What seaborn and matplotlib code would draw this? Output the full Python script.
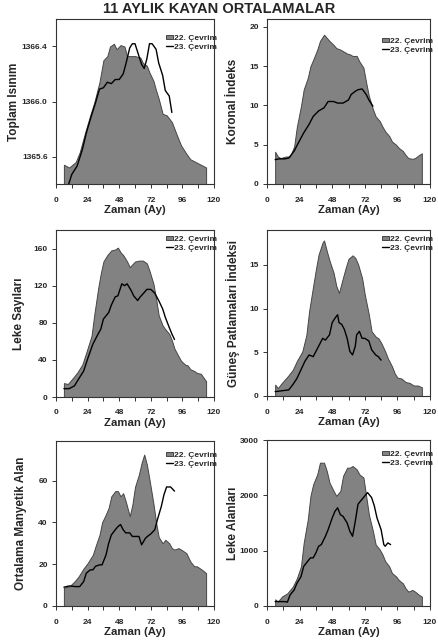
import numpy as np
import seaborn as sns
import matplotlib.pyplot as plt

# 11-month running means, cycle 22 (filled) vs cycle 23 (line), x = months
tsi22_m = [6, 10, 15, 18, 22, 26, 29, 33, 36, 39, 41, 44, 46, 49, 52, 54, 57, 60, 64, 66, 69, 71, 74, 76, 78, 81, 84, 88, 92, 95, 99, 102, 106, 110, 114]
tsi22 = [1365.54, 1365.52, 1365.56, 1365.63, 1365.77, 1365.90, 1365.99, 1366.14, 1366.30, 1366.33, 1366.40, 1366.42, 1366.38, 1366.41, 1366.40, 1366.33, 1366.33, 1366.33, 1366.32, 1366.28, 1366.26, 1366.21, 1366.15, 1366.08, 1366.02, 1365.91, 1365.90, 1365.85, 1365.75, 1365.68, 1365.62, 1365.58, 1365.56, 1365.54, 1365.52]
tsi23_m = [9, 12, 16, 20, 23, 27, 30, 33, 36, 39, 42, 45, 48, 51, 53, 56, 58, 60, 62, 65, 67, 69, 71, 73, 76, 78, 81, 83, 86, 88]
tsi23 = [1365.38, 1365.47, 1365.53, 1365.65, 1365.77, 1365.90, 1365.99, 1366.09, 1366.10, 1366.14, 1366.13, 1366.16, 1366.16, 1366.20, 1366.27, 1366.39, 1366.42, 1366.42, 1366.36, 1366.27, 1366.24, 1366.31, 1366.42, 1366.42, 1366.38, 1366.28, 1366.19, 1366.08, 1366.04, 1365.92]

ci22_m = [6, 8, 10, 14, 17, 20, 22, 25, 27, 30, 32, 34, 37, 39, 42, 44, 46, 49, 51, 54, 56, 59, 61, 63, 66, 68, 71, 73, 75, 78, 80, 83, 85, 87, 90, 92, 95, 97, 100, 102, 104, 107, 109, 112, 114]
ci22 = [4.1, 3.5, 3.3, 3.5, 3.5, 4.8, 7.3, 9.9, 12.0, 13.5, 15.0, 15.8, 17.1, 18.2, 19.0, 18.6, 18.2, 17.7, 17.3, 17.1, 16.9, 16.6, 16.5, 16.3, 16.3, 15.6, 14.8, 12.9, 11.2, 9.5, 8.6, 8.0, 7.3, 6.7, 6.1, 5.4, 5.0, 4.6, 4.2, 3.7, 3.3, 3.2, 3.3, 3.7, 3.9]
ci23_m = [6, 9, 13, 16, 20, 23, 27, 31, 34, 38, 42, 45, 49, 52, 56, 60, 62, 65, 67, 70, 73, 75, 78]
ci23 = [3.1, 3.2, 3.2, 3.3, 4.2, 5.2, 6.5, 7.6, 8.6, 9.3, 9.7, 10.5, 10.5, 10.3, 10.3, 10.7, 11.4, 11.8, 12.0, 12.1, 11.4, 10.7, 9.9]

ssn22_m = [6, 9, 12, 16, 20, 23, 27, 29, 32, 34, 36, 39, 42, 45, 47, 49, 51, 54, 56, 58, 60, 63, 66, 69, 71, 74, 76, 78, 81, 83, 86, 88, 90, 93, 95, 98, 100, 102, 105, 107, 110, 112, 114]
ssn22 = [15, 14, 19, 26, 35, 48, 66, 88, 117, 133, 146, 153, 158, 159, 161, 156, 153, 146, 140, 143, 146, 147, 147, 144, 136, 122, 106, 88, 77, 73, 68, 61, 52, 44, 39, 35, 34, 30, 28, 26, 25, 21, 17]
ssn23_m = [6, 10, 14, 17, 21, 24, 28, 32, 34, 36, 40, 42, 45, 47, 50, 52, 54, 57, 59, 62, 64, 66, 69, 72, 75, 78, 81, 83, 86, 88, 90]
ssn23 = [9, 9, 12, 19, 28, 41, 57, 68, 73, 84, 91, 99, 108, 109, 122, 120, 122, 115, 109, 104, 108, 111, 116, 116, 112, 104, 95, 86, 75, 68, 62]

fi22_m = [6, 8, 11, 15, 19, 22, 26, 29, 31, 34, 36, 38, 41, 42, 44, 46, 49, 51, 53, 55, 58, 60, 63, 65, 67, 70, 72, 75, 77, 80, 82, 84, 87, 89, 92, 94, 96, 99, 102, 105, 108, 111, 114]
fi22 = [1.3, 0.9, 1.5, 2.2, 3.0, 4.0, 5.1, 7.0, 9.7, 12.6, 14.5, 16.2, 17.6, 17.8, 16.6, 15.5, 14.1, 12.6, 11.8, 13.0, 14.7, 15.7, 16.1, 15.8, 15.1, 13.5, 11.6, 9.3, 7.4, 6.8, 6.6, 6.1, 5.1, 4.3, 3.4, 2.6, 2.1, 2.0, 1.6, 1.5, 1.2, 1.2, 1.0]
fi23_m = [6, 11, 16, 19, 22, 25, 28, 31, 34, 36, 38, 41, 43, 46, 48, 50, 52, 53, 55, 57, 59, 61, 63, 65, 66, 68, 70, 72, 75, 77, 80, 82, 84]
fi23 = [0.5, 0.6, 0.7, 1.3, 2.0, 3.0, 4.0, 4.7, 4.5, 5.1, 5.7, 6.6, 6.4, 7.0, 8.4, 8.9, 9.3, 8.4, 8.2, 7.6, 6.6, 5.1, 4.7, 5.7, 7.0, 7.4, 6.6, 6.6, 6.3, 5.3, 4.7, 4.5, 4.1]

mf22_m = [6, 10, 14, 17, 21, 24, 28, 30, 33, 35, 38, 40, 42, 45, 47, 49, 51, 53, 56, 58, 60, 63, 65, 67, 69, 71, 74, 76, 78, 81, 83, 86, 88, 90, 93, 95, 99, 102, 105, 107, 111, 114]
mf22 = [8.8, 9.3, 11.7, 14, 18, 20.5, 24.5, 28.5, 34, 40, 44, 47, 52.5, 55, 55, 52.5, 54, 50, 43, 48.5, 57, 63, 68.5, 72.5, 67.7, 60.5, 49, 40, 33, 30, 31.7, 30, 27.7, 27, 27.7, 27, 25.3, 21.3, 19, 19, 17.3, 15.7]
mf23_m = [6, 10, 15, 18, 21, 23, 26, 28, 30, 33, 35, 38, 40, 42, 45, 47, 49, 51, 53, 56, 58, 60, 63, 65, 68, 70, 72, 75, 77, 80, 82, 84, 87, 89, 90]
mf23 = [9, 9.6, 9.3, 9.3, 11.7, 15.7, 17.3, 17.3, 19, 19.7, 19.7, 24.5, 30, 34, 36.5, 38, 39, 36.5, 35, 35, 33.3, 33.3, 33.3, 29.3, 32.5, 33.6, 34.5, 36.5, 41.3, 47.7, 53.3, 57, 57, 55.7, 55]

sa22_m = [6, 8, 11, 15, 19, 22, 25, 27, 30, 32, 34, 37, 39, 42, 44, 46, 49, 51, 54, 56, 59, 61, 63, 66, 68, 71, 73, 75, 78, 80, 83, 85, 87, 90, 92, 95, 97, 100, 102, 104, 107, 109, 112, 114]
sa22 = [121, 79, 170, 230, 350, 500, 715, 1140, 1560, 1990, 2200, 2380, 2590, 2590, 2440, 2230, 2080, 1990, 2080, 2350, 2500, 2500, 2530, 2470, 2380, 2320, 1990, 1650, 1350, 1110, 1020, 930, 810, 715, 595, 535, 470, 410, 320, 260, 290, 260, 200, 170]
sa23_m = [6, 9, 13, 15, 17, 20, 22, 25, 27, 30, 32, 34, 36, 38, 40, 43, 45, 48, 50, 52, 54, 56, 59, 61, 63, 65, 67, 69, 72, 74, 77, 79, 81, 84, 86, 87, 89, 91]
sa23 = [80, 80, 80, 70, 200, 290, 410, 530, 715, 810, 870, 870, 960, 1080, 1110, 1260, 1380, 1590, 1710, 1775, 1650, 1620, 1500, 1350, 1260, 1530, 1840, 1900, 1990, 2050, 1960, 1810, 1590, 1380, 1110, 1080, 1140, 1110]

ylabels = ['Toplam Isınım', 'Koronal İndeks', 'Leke Sayıları',
           'Güneş Patlamaları İndeksi', 'Ortalama Manyetik Alan', 'Leke Alanları']
yticks = [[1365.6, 1366.0, 1366.4], [0, 5, 10, 15, 20], [0, 40, 80, 120, 160],
          [0, 5, 10, 15], [0, 20, 40, 60], [0, 1000, 2000, 3000]]
ylims = [(1365.4, 1366.6), (0, 21), (0, 180), (0, 19), (0, 79), (0, 3000)]

sns.set_style('ticks')
plt.rcParams['font.family'] = ['Liberation Sans', 'DejaVu Sans']
plt.rcParams['font.weight'] = 'bold'

W, H = 438, 644
fig = plt.figure(figsize=(W / 100, H / 100), dpi=100)

# panel boxes in pixels: left, top, right, bottom
boxes = [(56, 19, 214, 184), (267, 19, 430, 184),
         (56, 230, 214, 397), (267, 230, 430, 396),
         (56, 441, 214, 606), (267, 440, 430, 606)]
ylab_off = [36, 28, 31, 27, 29, 28]
leg_off = [16, 19, 6, 6, 11, 11]  # legend top below frame, px

series = [(tsi22_m, tsi22, tsi23_m, tsi23), (ci22_m, ci22, ci23_m, ci23),
          (ssn22_m, ssn22, ssn23_m, ssn23), (fi22_m, fi22, fi23_m, fi23),
          (mf22_m, mf22, mf23_m, mf23), (sa22_m, sa22, sa23_m, sa23)]

for i, (m22, v22, m23, v23) in enumerate(series):
    l, t, r, b = boxes[i]
    w, h = r - l, b - t
    ax = fig.add_axes([l / W, 1 - b / H, w / W, h / H])
    lo, hi = ylims[i]
    ax.fill_between(m22, v22, lo, color='#828282', edgecolor='#454545',
                    linewidth=0.7, label='22. Çevrim')
    sns.lineplot(x=m23, y=v23, ax=ax, color='black', linewidth=1.0,
                 label='23. Çevrim')
    ax.set_xlim(0, 120)
    ax.set_ylim(lo, hi)
    ax.set_xticks(range(0, 121, 24))
    ax.set_xticks(range(12, 120, 24), minor=True)
    ax.set_yticks(yticks[i])
    if i == 0:
        ax.set_yticklabels([f'{v:.1f}' for v in yticks[i]])
    ax.tick_params(which='both', direction='out', length=3, width=0.7,
                   labelsize=6, color='#333333')
    ax.tick_params(axis='x', pad=6)
    ax.tick_params(axis='y', pad=3)
    for s in ax.spines.values():
        s.set_linewidth(0.8)
        s.set_color('#333333')
    ax.set_xlabel('Zaman (Ay)', fontsize=8.2, fontweight='bold')
    ax.set_ylabel(ylabels[i], fontsize=8.5, fontweight='bold')
    ax.xaxis.set_label_coords(0.5, -21 / h)
    ax.yaxis.set_label_coords(-ylab_off[i] / w, 0.5)
    ax.legend(loc='upper right', bbox_to_anchor=(1.02, 1 - leg_off[i] / h),
              frameon=False, fontsize=6, handlelength=0.8, handleheight=0.35,
              handletextpad=0.15, labelspacing=0.2, borderaxespad=0.0,
              borderpad=0.0)

fig.text(0.5, 1 - 9 / H, '11 AYLIK KAYAN ORTALAMALAR', ha='center',
         va='center', fontsize=10.5, fontweight='bold')

fig.savefig('out.png', dpi=100)
